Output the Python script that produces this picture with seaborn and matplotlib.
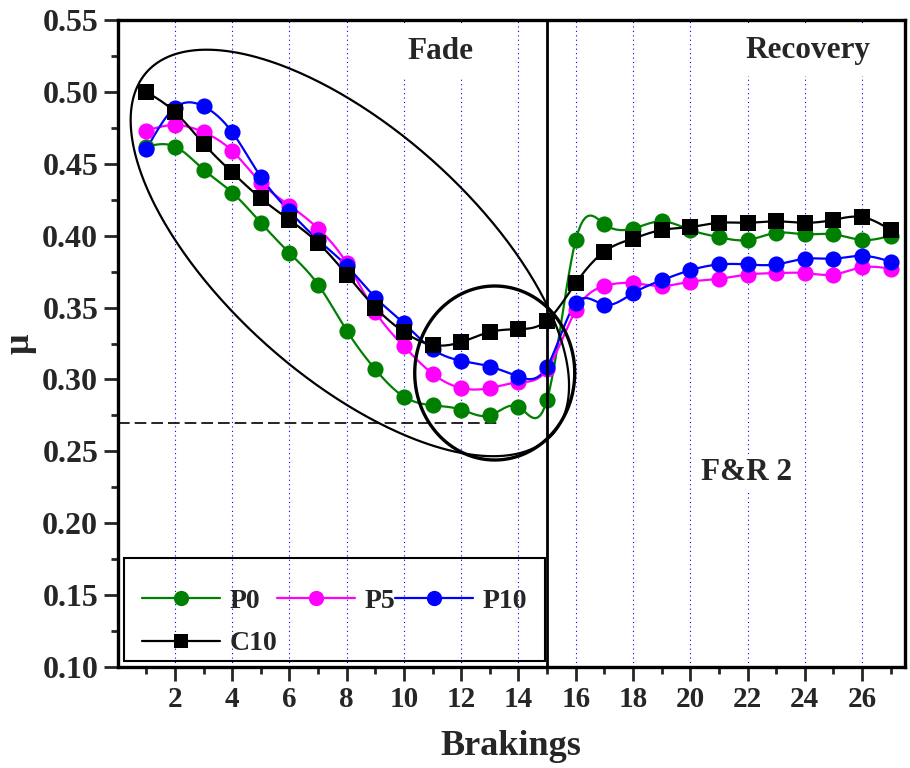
import numpy as np
import pandas as pd
import matplotlib
matplotlib.use('Agg')
import matplotlib.pyplot as plt
import seaborn as sns
from matplotlib.lines import Line2D
from matplotlib.patches import Rectangle
from matplotlib.ticker import FormatStrFormatter

# Friction coefficient per braking (fade 1-15, recovery 16-27)
brakings = [1, 2, 3, 4, 5, 6, 7, 8, 9, 10, 11, 12, 13, 14, 15, 16, 17, 18, 19, 20, 21, 22, 23, 24, 25, 26, 27]
p0 = [0.462, 0.462, 0.446, 0.430, 0.409, 0.388, 0.366, 0.334, 0.307, 0.288, 0.282, 0.279, 0.275, 0.281, 0.286,
      0.397, 0.408, 0.405, 0.410, 0.404, 0.399, 0.397, 0.402, 0.401, 0.401, 0.397, 0.400]
p5 = [0.473, 0.477, 0.472, 0.459, 0.437, 0.421, 0.405, 0.381, 0.347, 0.323, 0.304, 0.294, 0.294, 0.298, 0.307,
      0.348, 0.365, 0.367, 0.365, 0.368, 0.370, 0.373, 0.374, 0.374, 0.373, 0.378, 0.377]
p10 = [0.460, 0.489, 0.490, 0.472, 0.441, 0.417, 0.397, 0.379, 0.357, 0.339, 0.321, 0.313, 0.309, 0.302, 0.309,
       0.353, 0.352, 0.360, 0.369, 0.376, 0.380, 0.380, 0.380, 0.384, 0.384, 0.386, 0.382]
c10 = [0.500, 0.486, 0.464, 0.444, 0.426, 0.411, 0.395, 0.373, 0.350, 0.333, 0.324, 0.326, 0.333, 0.335, 0.341,
       0.367, 0.389, 0.398, 0.404, 0.406, 0.409, 0.409, 0.410, 0.409, 0.411, 0.413, 0.404]

labels = ['P0', 'P5', 'P10', 'C10']
series = [p0, p5, p10, c10]
colors = ['#008000', '#FF00FF', '#0000FF', '#000000']
markers = ['o', 'o', 'o', 's']


def natural_spline(x, y, per=12):
    # smooth connecting curve through the measured points (like Origin's spline line)
    x = np.asarray(x, float)
    y = np.asarray(y, float)
    n = len(x)
    h = np.diff(x)
    A = np.zeros((n, n))
    r = np.zeros(n)
    A[0, 0] = A[-1, -1] = 1
    for i in range(1, n - 1):
        A[i, i - 1] = h[i - 1]
        A[i, i] = 2 * (h[i - 1] + h[i])
        A[i, i + 1] = h[i]
        r[i] = 6 * ((y[i + 1] - y[i]) / h[i] - (y[i] - y[i - 1]) / h[i - 1])
    M = np.linalg.solve(A, r)
    xs, ys = [], []
    for i in range(n - 1):
        t = np.linspace(x[i], x[i + 1], per, endpoint=False)
        a = x[i + 1] - t
        b = t - x[i]
        s = (M[i] * a ** 3 + M[i + 1] * b ** 3) / (6 * h[i]) \
            + (y[i] / h[i] - M[i] * h[i] / 6) * a + (y[i + 1] / h[i] - M[i + 1] * h[i] / 6) * b
        xs.append(t)
        ys.append(s)
    xs.append([x[-1]])
    ys.append([y[-1]])
    return np.concatenate(xs), np.concatenate(ys)


sns.set_style('ticks')
plt.rcParams['font.family'] = ['Liberation Serif', 'DejaVu Serif']
plt.rcParams['font.weight'] = 'bold'
plt.rcParams['axes.labelweight'] = 'bold'

fig = plt.figure(figsize=(9.1, 7.68), dpi=100)
ax = fig.add_axes([0.1293, 0.1315, 0.8652, 0.8424])

XMAX, YMIN, YMAX = 27.5, 0.10, 0.55

for lab, vals, col, mk in zip(labels, series, colors, markers):
    xs, ys = natural_spline(brakings, vals)
    sns.lineplot(x=xs, y=ys, color=col, lw=1.6, sort=False, ax=ax, zorder=3)
    sns.scatterplot(x=brakings, y=vals, color=col, marker=mk, s=135 if mk == 'o' else 120,
                    linewidth=0, ax=ax, zorder=4, legend=False)

ax.set_xlim(0, XMAX)
ax.set_ylim(YMIN, YMAX)

# fade / recovery separator and reference level
ax.axvline(15, color='black', lw=2, zorder=5)
ax.plot([0, 13.25], [0.27, 0.27], color='black', lw=1.2, linestyle=(0, (7, 3)), zorder=2)

# highlight ellipses (drawn in pixel space so they keep their shape)
px_x = fig.get_figwidth() * fig.dpi * 0.8652 / XMAX
px_y = fig.get_figheight() * fig.dpi * 0.8424 / (YMAX - YMIN)
t = np.linspace(0, 2 * np.pi, 400)
for cx, cy, a, b, ang, lw in [(8.11, 0.388, 272, 124, 41.7, 1.6), (13.17, 0.3045, 80, 87, 0, 2.4)]:
    th = np.radians(ang)
    du = a * np.cos(t) * np.cos(th) - b * np.sin(t) * np.sin(th)
    dv = a * np.cos(t) * np.sin(th) + b * np.sin(t) * np.cos(th)
    ax.plot(cx + du / px_x, cy - dv / px_y, color='black', lw=lw, zorder=6)

# labels in the plot
box = dict(facecolor='white', edgecolor='none', pad=8)
ax.text(11.26, 0.528, 'Fade', fontsize=22.5, fontweight='bold', ha='center', va='center', bbox=box, zorder=2.5)
ax.text(24.11, 0.529, 'Recovery', fontsize=22.5, fontweight='bold', ha='center', va='center', bbox=box, zorder=2.5)
ax.text(21.97, 0.235, 'F&R 2', fontsize=22.5, fontweight='bold', ha='center', va='center',
        bbox=dict(facecolor='white', edgecolor='none', pad=3), zorder=2.5)

# ticks and grid
ax.set_xticks([2, 4, 6, 8, 10, 12, 14, 16, 18, 20, 22, 24, 26])
ax.set_xticks([1, 3, 5, 7, 9, 11, 13, 15, 17, 19, 21, 23, 25, 27], minor=True)
ax.set_yticks([0.10, 0.15, 0.20, 0.25, 0.30, 0.35, 0.40, 0.45, 0.50, 0.55])
ax.set_yticks([0.125, 0.175, 0.225, 0.275, 0.325, 0.375, 0.425, 0.475, 0.525], minor=True)
ax.yaxis.set_major_formatter(FormatStrFormatter('%.2f'))
ax.tick_params(which='major', direction='out', length=10, width=2, pad=4)
ax.tick_params(axis='x', which='major', labelsize=21)
ax.tick_params(axis='y', which='major', labelsize=23)
ax.tick_params(which='minor', direction='out', length=5, width=2)
ax.grid(axis='x', which='major', color='#0000FF', linestyle=(0, (1, 3)), lw=0.8)
ax.set_axisbelow(True)
for sp in ax.spines.values():
    sp.set_linewidth(2.4)
    sp.set_color('black')

ax.set_xlabel('Brakings', fontsize=26, fontweight='bold', labelpad=12)
ax.set_ylabel('μ', fontsize=26, fontweight='bold', labelpad=4)

# legend with a plain rectangular frame
handles = []
for lab, col, mk in zip(labels, colors, markers):
    handles.append(Line2D([], [], color=col, lw=1.6, marker=mk, markersize=11 if mk == 'o' else 10,
                          markeredgewidth=0, label=lab))
order = [0, 3, 1, 2]
ax.legend([handles[i] for i in order], [labels[i] for i in order], ncol=3, frameon=False,
          loc='center left', bbox_to_anchor=(0.013, 0.0688), fontsize=20, borderpad=0,
          handlelength=2.8, handletextpad=0.35, columnspacing=0.0, labelspacing=0.6)
ax.add_patch(Rectangle((0.008, 0.0093), 0.535, 0.1592, transform=ax.transAxes, fill=False,
                       edgecolor='black', lw=1.5, zorder=7))

fig.savefig('out.png', dpi=100)
